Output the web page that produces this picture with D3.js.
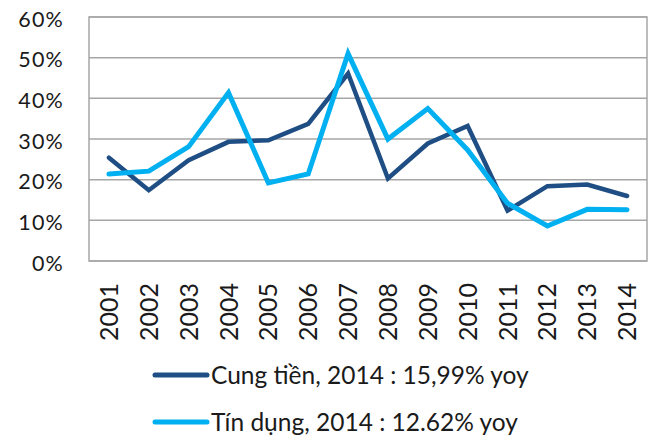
<!DOCTYPE html>
<html>
<head>
<meta charset="utf-8">
<script src="https://cdn.jsdelivr.net/npm/d3@7"></script>
<style>
  body { margin: 0; background: #fff; }
  text { font-family: Lato, "Open Sans", sans-serif; fill: #1a1a1a; }
</style>
</head>
<body>
<svg id="chart"></svg>
<script>
const years = ["2001", "2002", "2003", "2004", "2005", "2006", "2007",
  "2008", "2009", "2010", "2011", "2012", "2013", "2014"];
const cungTien = [25.4, 17.4, 24.8, 29.3, 29.7, 33.7, 46.1, 20.3, 28.9, 33.2, 12.4, 18.4, 18.8, 15.99];
const tinDung = [21.4, 22.1, 28.1, 41.4, 19.2, 21.4, 51.0, 30.0, 37.5, 27.3, 14.2, 8.6, 12.7, 12.62];
const yTicks = [0, 10, 20, 30, 40, 50, 60];
const seriesNames = ["Cung tiền, 2014 : 15,99% yoy", "Tín dụng, 2014 : 12.62% yoy"];

const width = 656, height = 439;
const margin = { top: 17, right: 9, bottom: 178, left: 89 };
const w = width - margin.left - margin.right;
const h = height - margin.top - margin.bottom;

const colors = ["#1f4e84", "#00b0f0"];

const svg = d3.select("#chart").attr("width", width).attr("height", height);
const chart = svg.append("g").attr("transform", `translate(${margin.left},${margin.top})`);

const xScale = d3.scaleBand().domain(years).range([0, w]);
const yScale = d3.scaleLinear().domain([0, 60]).range([h, 0]);

// gridlines
chart.selectAll(".grid")
  .data(yTicks)
  .join("line")
  .attr("class", "grid")
  .attr("x1", 0).attr("x2", w)
  .attr("y1", d => yScale(d)).attr("y2", d => yScale(d))
  .attr("stroke", "#a6a6a6")
  .attr("stroke-width", 1.5);

// frame
chart.append("rect")
  .attr("x", 0).attr("y", 0).attr("width", w).attr("height", h)
  .attr("fill", "none")
  .attr("stroke", "#a6a6a6")
  .attr("stroke-width", 1.5);

// y axis labels
const yAxis = d3.axisLeft(yScale).tickValues(yTicks).tickSize(0).tickPadding(25)
  .tickFormat(d => d + "%");
const yAxisG = chart.append("g").call(yAxis);
yAxisG.select(".domain").remove();
yAxisG.selectAll("text")
  .style("font-size", "21.5px").style("font-family", "Lato, sans-serif")
  .style("letter-spacing", "1.2px")
  .attr("fill", "#1a1a1a")
  .attr("dy", "0.42em");

// x axis labels
const xAxis = d3.axisBottom(xScale).tickSize(0);
const xAxisG = chart.append("g").attr("transform", `translate(0,${h})`).call(xAxis);
xAxisG.select(".domain").remove();
xAxisG.selectAll("text")
  .style("font-size", "25px").style("font-family", "Lato, sans-serif")
  .attr("fill", "#1a1a1a")
  .attr("transform", "rotate(-90)")
  .attr("text-anchor", "end")
  .attr("x", -22)
  .attr("y", 0)
  .attr("dy", "0.36em");

// lines
const line = d3.line()
  .x((d, i) => xScale(years[i]) + xScale.bandwidth() / 2)
  .y(d => yScale(d));

[cungTien, tinDung].forEach((s, i) => {
  chart.append("path")
    .datum(s)
    .attr("d", line)
    .attr("fill", "none")
    .attr("stroke", colors[i])
    .attr("stroke-width", i === 0 ? 4.5 : 5)
    .attr("stroke-linejoin", "miter")
    .attr("stroke-linecap", "round");
});

// legend
const legend = svg.append("g");
seriesNames.forEach((name, i) => {
  const ly = 375 + i * 47;
  legend.append("line")
    .attr("x1", 155).attr("x2", 207)
    .attr("y1", ly).attr("y2", ly)
    .attr("stroke", colors[i])
    .attr("stroke-width", 5)
    .attr("stroke-linecap", "round");
  legend.append("text")
    .attr("x", 211).attr("y", ly)
    .attr("dy", "0.36em")
    .style("font-size", "24.5px")
    .text(name);
});
</script>
</body>
</html>
